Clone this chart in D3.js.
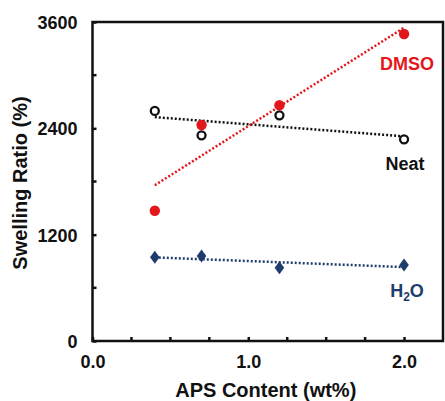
<!DOCTYPE html>
<html><head><meta charset="utf-8">
<script src="https://cdn.jsdelivr.net/npm/d3@7"></script>
<style>
html,body{margin:0;padding:0;background:#fff;}
text{font-family:"Liberation Sans",Arial,sans-serif;font-weight:bold;}
</style></head>
<body>
<svg id="c" width="445" height="401"></svg>
<script>
const apsContent = [0.4, 0.7, 1.2, 2.0];
const dmsoValues = [1470, 2438, 2660, 3465];
const neatValues = [2596, 2321, 2547, 2276];
const h2oValues = [945, 959, 827, 858];
const yTickValues = [0, 1200, 2400, 3600];
const yMinorTicks = [600, 1800, 3000];
const xTickValues = [0, 1, 2];
const xMinorTicks = [0.25, 0.5, 0.75, 1.25, 1.5, 1.75];

const svg = d3.select("#c");
const x = d3.scaleLinear().domain([0, 2.25]).range([92.5, 443]);
const y = d3.scaleLinear().domain([0, 3600]).range([341, 22]);

const RED = "#e3161b", NAVY = "#1e3c6c", BLACK = "#111";

// frame
svg.append("rect").attr("x", x(0)).attr("y", y(3600))
  .attr("width", x(2.25) - x(0)).attr("height", y(0) - y(3600))
  .attr("fill", "none").attr("stroke", BLACK).attr("stroke-width", 2.5);

// y axis
const yAxis = d3.axisLeft(y).tickValues(yTickValues).tickSize(-4).tickPadding(15).tickFormat(d3.format("d"));
const gy = svg.append("g").attr("transform", `translate(${x(0)},0)`).call(yAxis);
gy.select(".domain").remove();
gy.selectAll("line").attr("stroke", BLACK).attr("stroke-width", 2.5);
gy.selectAll("text").attr("font-size", 18).attr("fill", BLACK).attr("dy", "0.36em");
gy.selectAll(".minor").data(yMinorTicks).enter().append("line")
  .attr("x1", 0).attr("x2", 4).attr("y1", d => y(d)).attr("y2", d => y(d))
  .attr("stroke", BLACK).attr("stroke-width", 2.5);

// x axis
const xAxis = d3.axisBottom(x).tickValues(xTickValues).tickSize(-4).tickPadding(14).tickFormat(d3.format(".1f"));
const gx = svg.append("g").attr("transform", `translate(0,${y(0)})`).call(xAxis);
gx.select(".domain").remove();
gx.selectAll("line").attr("stroke", BLACK).attr("stroke-width", 2.5);
gx.selectAll("text").attr("font-size", 18).attr("fill", BLACK);
gx.selectAll(".minor").data(xMinorTicks).enter().append("line")
  .attr("x1", d => x(d)).attr("x2", d => x(d)).attr("y1", 0).attr("y2", -4)
  .attr("stroke", BLACK).attr("stroke-width", 2.5);

// titles
svg.append("text").attr("x", (x(0) + x(2.25)) / 2 - 2).attr("y", 397)
  .attr("text-anchor", "middle").attr("font-size", 20).attr("fill", BLACK)
  .text("APS Content (wt%)");
svg.append("text").attr("transform", "translate(27,183) rotate(-90)")
  .attr("text-anchor", "middle").attr("font-size", 20).attr("fill", BLACK)
  .text("Swelling Ratio (%)");

// regression trend lines
function fit(xs, ys) {
  const mx = d3.mean(xs), my = d3.mean(ys);
  let sxy = 0, sxx = 0;
  xs.forEach((xi, i) => { sxy += (xi - mx) * (ys[i] - my); sxx += (xi - mx) ** 2; });
  const b = sxy / sxx, a = my - b * mx;
  const x0 = d3.min(xs), x1 = d3.max(xs);
  return [[x0, a + b * x0], [x1, a + b * x1]];
}
const line = d3.line().x(d => x(d[0])).y(d => y(d[1]));
[[neatValues, BLACK], [dmsoValues, RED], [h2oValues, NAVY]].forEach(([vals, col]) => {
  svg.append("path").attr("d", line(fit(apsContent, vals)))
    .attr("fill", "none").attr("stroke", col).attr("stroke-width", 2.5)
    .attr("stroke-dasharray", "2,2");
});

// markers
svg.append("g").selectAll("circle").data(apsContent).enter().append("circle")
  .attr("cx", d => x(d)).attr("cy", (d, i) => y(neatValues[i])).attr("r", 4)
  .attr("fill", "#fff").attr("stroke", BLACK).attr("stroke-width", 2.3);
svg.append("g").selectAll("circle").data(apsContent).enter().append("circle")
  .attr("cx", d => x(d)).attr("cy", (d, i) => y(dmsoValues[i])).attr("r", 5.2)
  .attr("fill", RED);
svg.append("g").selectAll("path").data(apsContent).enter().append("path")
  .attr("d", d3.symbol(d3.symbolDiamond, 60)())
  .attr("transform", (d, i) => `translate(${x(d)},${y(h2oValues[i])}) scale(1.15,0.9)`)
  .attr("fill", NAVY);

// series labels
svg.append("text").attr("x", 407).attr("y", 70).attr("text-anchor", "middle")
  .attr("font-size", 18).attr("fill", RED).text("DMSO");
svg.append("text").attr("x", 405).attr("y", 170).attr("text-anchor", "middle")
  .attr("font-size", 18).attr("fill", BLACK).text("Neat");
const h = svg.append("text").attr("x", 407).attr("y", 297).attr("text-anchor", "middle")
  .attr("font-size", 18).attr("fill", NAVY);
h.append("tspan").text("H");
h.append("tspan").attr("font-size", 12).attr("dy", 4).text("2");
h.append("tspan").attr("dy", -4).text("O");
</script>
</body></html>
